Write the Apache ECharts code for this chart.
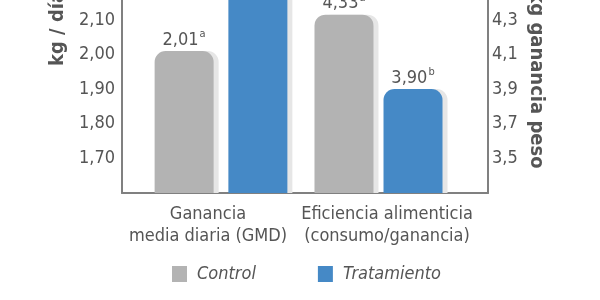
<!DOCTYPE html>
<html>
<head>
<meta charset="utf-8">
<script src="https://cdn.jsdelivr.net/npm/echarts@6/dist/echarts.min.js"></script>
<style>html,body{margin:0;padding:0;background:#fff}#c{width:600px;height:300px}</style>
</head>
<body>
<div id="c"></div>
<script>
var categories = ['Ganancia\nmedia diaria (GMD)', 'Eficiencia alimenticia\n(consumo/ganancia)'];
var seriesNames = ['Control', 'Tratamiento'];
var controlValues = [2.01, 4.33];
var tratamientoValues = [2.27, 3.90];
var controlSup = ['a', 'a'];
var tratamientoSup = ['b', 'b'];
var leftAxisName = 'kg / día';
var rightAxisName = 'kg alimento/kg ganancia peso';

var FONT = "'Liberation Sans Narrow', 'DejaVu Sans Condensed', sans-serif";
var TXT = '#555555';
var AXIS = '#808080';
var GRAY = '#b3b3b3';
var BLUE = '#4589c6';
var SHADOW = '#e6e6e6';

function comma(v, d) { return v.toFixed(d).replace('.', ','); }

function barLabel(sup, idx) {
  return {
    show: true, position: 'top', distance: 0,
    formatter: function (p) { return '{v|' + comma(p.value, 2) + '}{s|' + sup[idx] + '}'; },
    rich: {
      v: { fontFamily: FONT, fontSize: 18, color: TXT, lineHeight: 22 },
      s: { fontFamily: FONT, fontSize: 11, color: TXT, verticalAlign: 'top', lineHeight: 22, padding: [0, 0, 10, 1] }
    }
  };
}

function itemStyle(color) {
  return { color: color, borderRadius: [11, 11, 0, 0], shadowColor: SHADOW, shadowOffsetX: 5, shadowOffsetY: 0, shadowBlur: 0 };
}

var xCommon = function (idx, pad) {
  return {
    type: 'category', gridIndex: idx, data: [categories[idx]],
    axisLine: { show: true, lineStyle: { color: AXIS, width: 2 } },
    axisTick: { show: false },
    axisLabel: { fontFamily: FONT, fontSize: 18, color: TXT, lineHeight: 22, margin: 10, padding: pad, interval: 0 }
  };
};

var option = {
  animation: false,
  grid: [
    { left: 122, right: 280, top: -136, bottom: 107, outerBoundsMode: 'none', containLabel: false },
    { left: 269, right: 112, top: -136, bottom: 107, outerBoundsMode: 'none', containLabel: false }
  ],
  legend: {
    data: seriesNames, top: 260, left: 167, itemWidth: 15, itemHeight: 16, itemGap: 62,
    icon: 'rect',
    textStyle: { fontFamily: FONT, fontSize: 18, fontStyle: 'italic', color: TXT, padding: [0, 0, 0, 5] }
  },
  xAxis: [xCommon(0, [0, 26, 0, 0]), xCommon(1, [0, 0, 0, 17])],
  yAxis: [
    {
      type: 'value', gridIndex: 0, position: 'left', min: 1.6, max: 2.55, interval: 0.1,
      axisLine: { show: true, lineStyle: { color: AXIS, width: 2 } },
      axisTick: { show: false }, splitLine: { show: false },
      axisLabel: { fontFamily: FONT, fontSize: 18, color: TXT, margin: 7, showMinLabel: false, showMaxLabel: false,
        formatter: function (v) { return comma(v, 2); } },
      name: leftAxisName, nameLocation: 'middle', nameGap: 54, nameRotate: 90,
      nameTextStyle: { fontFamily: FONT, fontSize: 20, fontWeight: 'bold', color: TXT }
    },
    {
      type: 'value', gridIndex: 1, position: 'right', min: 3.3, max: 5.2, interval: 0.2,
      axisLine: { show: true, lineStyle: { color: AXIS, width: 2 } },
      axisTick: { show: false }, splitLine: { show: false },
      axisLabel: { fontFamily: FONT, fontSize: 18, color: TXT, margin: 4, showMinLabel: false, showMaxLabel: false,
        formatter: function (v) { return comma(v, 1); } },
      name: rightAxisName, nameLocation: 'middle', nameGap: 38, nameRotate: -90,
      nameTextStyle: { fontFamily: FONT, fontSize: 20, fontWeight: 'bold', color: TXT, padding: [0, 24, 0, 0] }
    }
  ],
  series: [
    { name: seriesNames[0], type: 'bar', xAxisIndex: 0, yAxisIndex: 0, data: [controlValues[0]], barWidth: 59, barGap: '25%',
      itemStyle: itemStyle(GRAY), label: barLabel(controlSup, 0) },
    { name: seriesNames[1], type: 'bar', xAxisIndex: 0, yAxisIndex: 0, data: [tratamientoValues[0]], barWidth: 59, barGap: '25%',
      itemStyle: itemStyle(BLUE), label: barLabel(tratamientoSup, 0) },
    { name: seriesNames[0], type: 'bar', xAxisIndex: 1, yAxisIndex: 1, data: [controlValues[1]], barWidth: 59, barGap: '17%',
      itemStyle: itemStyle(GRAY), label: barLabel(controlSup, 1) },
    { name: seriesNames[1], type: 'bar', xAxisIndex: 1, yAxisIndex: 1, data: [tratamientoValues[1]], barWidth: 59, barGap: '17%',
      itemStyle: itemStyle(BLUE), label: barLabel(tratamientoSup, 1) }
  ]
};
echarts.init(document.getElementById('c')).setOption(option);
</script>
</body>
</html>
